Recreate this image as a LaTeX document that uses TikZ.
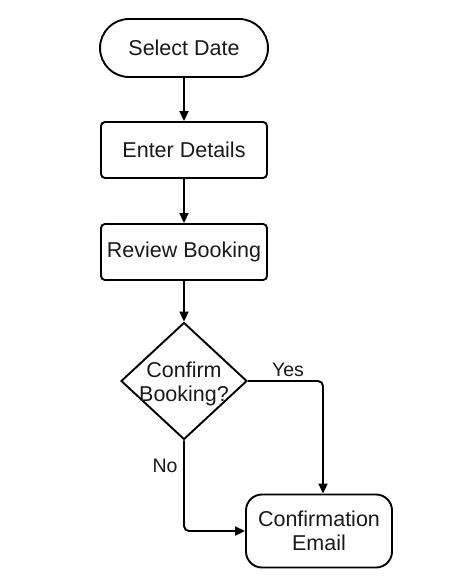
\documentclass[tikz,border=0pt]{standalone}
\usepackage{fontspec}
\setmainfont{Liberation Sans}
\usetikzlibrary{shapes.geometric,arrows.meta}
\begin{document}
\begin{tikzpicture}[x=1pt,y=-1pt,
  every node/.style={font=\fontsize{21.5}{24}\selectfont, text=black!90},
  stadium/.style={draw, line width=1.9pt, rounded corners=29pt, minimum width=168pt, minimum height=58pt},
  procbox/.style={draw, line width=1.9pt, rounded corners=4pt, minimum width=166pt, minimum height=56pt},
  endbox/.style={draw, line width=1.9pt, rounded corners=16pt, minimum width=146pt, minimum height=73pt, align=center},
  decision/.style={draw, line width=1.9pt, diamond, minimum width=126pt, minimum height=117pt, inner sep=0pt},
  conn/.style={line width=1.9pt, -{Triangle[length=10pt,width=9pt]}, rounded corners=5pt},
  lbl/.style={font=\fontsize{19.5}{22}\selectfont}
]
\useasboundingbox (0,0) rectangle (467,585);
\node[stadium] (sel) at (184,48) {Select Date};
\node[procbox] (ent) at (184,150) {Enter Details};
\node[procbox] (rev) at (184,252) {Review Booking};
\node[decision] (dec) at (184,381) {};
\node[align=center] (dectxt) at (184,384) {Confirm\\Booking?};
\node[endbox] (conf) at (319,531) {Confirmation\\Email};
\draw[conn] (sel) -- (ent);
\draw[conn] (ent) -- (rev);
\draw[conn] (rev) -- (dec);
\draw[conn] (dec.east) -| (conf.north -| 323,0);
\draw[conn] (dec.south) |- (conf.west);
\node[lbl] (yes) at (288,370) {Yes};
\node[lbl] (no) at (165,466) {No};
\end{tikzpicture}
\end{document}
